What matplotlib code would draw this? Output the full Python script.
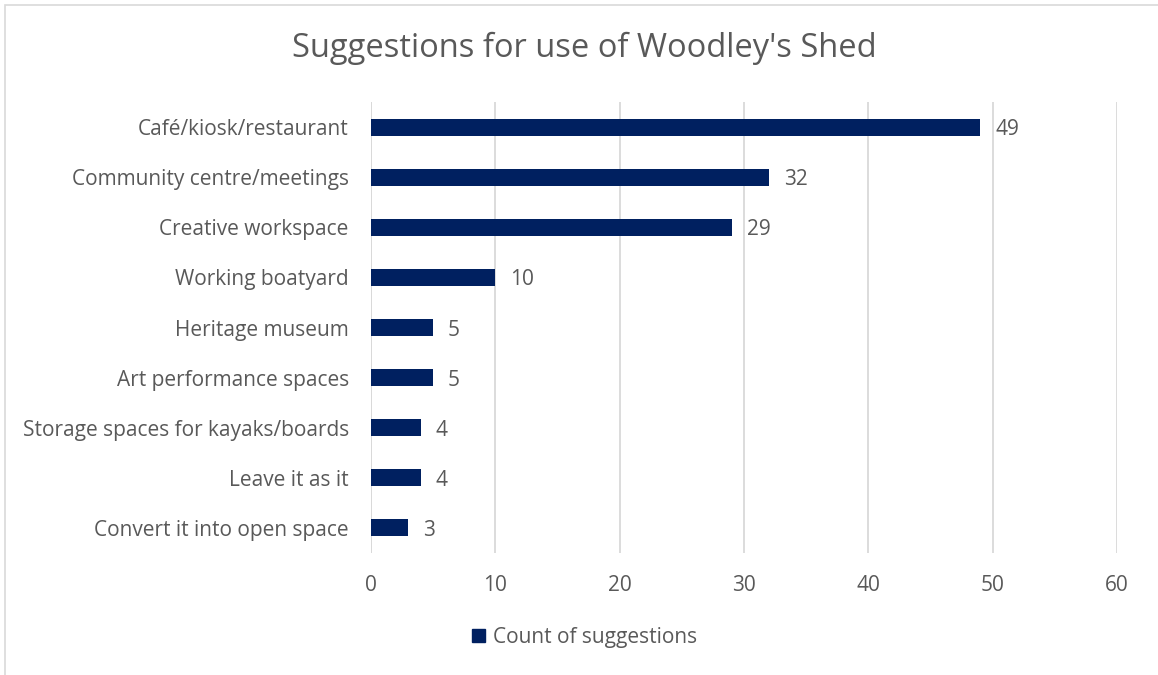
import matplotlib.pyplot as plt
from matplotlib.patches import Rectangle, Patch

# data
categories = ['Café/kiosk/restaurant', 'Community centre/meetings', 'Creative workspace',
              'Working boatyard', 'Heritage museum', 'Art performance spaces',
              'Storage spaces for kayaks/boards', 'Leave it as it', 'Convert it into open space']
counts = [49, 32, 29, 10, 5, 5, 4, 4, 3]
x_ticks = [0, 10, 20, 30, 40, 50, 60]

bar_color = '#002060'
text_color = '#595959'
grid_color = '#d9d9d9'

plt.rcParams['font.family'] = ['Open Sans', 'DejaVu Sans']

fig = plt.figure(figsize=(11.58, 6.75), dpi=100)
ax = fig.add_axes([0.3204, 0.1807, 0.6442, 0.6681])

y = list(range(len(categories)))
ax.barh(y, counts, height=0.34, color=bar_color, zorder=3)
ax.set_ylim(len(categories) - 0.5, -0.5)
ax.set_xlim(0, 60)
ax.set_xticks(x_ticks)
ax.set_yticks(y)
ax.set_yticklabels(categories)

for v, yy in zip(counts, y):
    ax.text(v + 1.2, yy, str(v), va='center_baseline', ha='left', fontsize=15, color=text_color)

ax.grid(axis='x', color=grid_color, linewidth=1.3, zorder=0)
ax.axvline(0, color=grid_color, linewidth=1.3, zorder=1)
for s in ax.spines.values():
    s.set_visible(False)
ax.tick_params(axis='both', length=0, labelsize=15, labelcolor=text_color)
ax.tick_params(axis='x', pad=16)
ax.tick_params(axis='y', pad=16)

fig.text(0.505, 0.928, "Suggestions for use of Woodley's Shed", ha='center', va='center',
         fontsize=23.5, color=text_color)

fig.legend(handles=[Patch(color=bar_color, label='Count of suggestions')],
           loc='center', bbox_to_anchor=(0.505, 0.056), frameon=False,
           fontsize=15, labelcolor=text_color, handlelength=0.6, handleheight=0.6,
           handletextpad=0.4)

fig.patches.append(Rectangle((5 / 1158, -0.01), 1.1, 1 - 5 / 675 + 0.01,
                             transform=fig.transFigure, fill=False,
                             edgecolor='#d9d9d9', linewidth=1.2))

fig.savefig('out.png', dpi=100)
